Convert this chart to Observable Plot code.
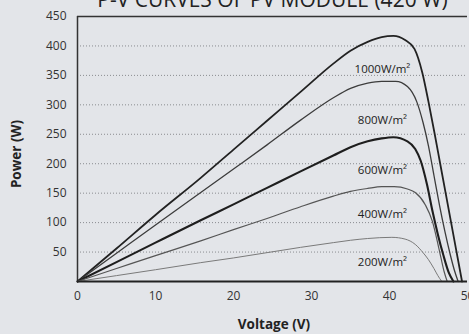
<!DOCTYPE html>
<html>
<head>
<meta charset="utf-8">
<script src="https://cdn.jsdelivr.net/npm/d3@7"></script>
<script src="https://cdn.jsdelivr.net/npm/@observablehq/plot@0.6"></script>
<style>
  html, body { margin: 0; padding: 0; background: #e3e5e9; overflow: hidden; }
  #wrap { position: relative; width: 469px; height: 334px; overflow: hidden; }
  #title { position: absolute; top: -15px; left: 0; width: 545px; text-align: center;
    font-family: "Open Sans", sans-serif; font-size: 21px; color: #222; white-space: nowrap; }
  #ylab { position: absolute; left: 16px; top: 154px; transform: translate(-50%, -50%) rotate(-90deg);
    font-family: "Open Sans", sans-serif; font-weight: bold; font-size: 13.5px; color: #222; white-space: nowrap; }
  #xlab { position: absolute; left: 274px; top: 315px; transform: translateX(-50%);
    font-family: "Open Sans", sans-serif; font-weight: bold; font-size: 13.5px; color: #222; white-space: nowrap; }
</style>
</head>
<body>
<div id="wrap">
  <div id="chart"></div>
  <div id="title">P-V CURVES OF PV MODULE (420 W)</div>
  <div id="ylab">Power (W)</div>
  <div id="xlab">Voltage (V)</div>
</div>
<script>
const series = ["1000W/m²", "800W/m²", "600W/m²", "400W/m²", "200W/m²"];
const voltage1000 = [0, 5, 10, 15.8, 20, 24.3, 28.6, 32.8, 35, 37.2, 39, 40.5, 42, 43.2, 44.2, 45, 45.8, 46.5, 47.2, 47.9, 48.6, 49.3];
const power1000   = [0, 56, 113, 176, 224, 273, 322, 370, 392, 407, 415, 417, 410, 395, 355, 305, 250, 200, 150, 100, 50, 0];
const voltage800  = [0, 5, 10, 15.8, 20, 24.3, 28.6, 32.8, 35, 37.2, 39, 40.8, 42.3, 43.5, 44.3, 45, 45.7, 46.4, 47.1, 47.8, 48.3, 48.8];
const power800    = [0, 48, 96, 151, 191, 232, 274, 312, 328, 337, 340, 340, 331, 305, 270, 230, 180, 130, 85, 45, 20, 0];
const voltage600  = [0, 5, 10, 15.8, 20, 24.3, 28.6, 32.8, 35, 37.2, 39, 40.5, 42.3, 43.3, 44, 44.8, 45.5, 46.2, 46.9, 47.6, 48.2];
const power600    = [0, 33, 66, 104, 131, 159, 187, 214, 228, 238, 243, 245, 238, 225, 205, 165, 120, 80, 45, 15, 0];
const voltage400  = [0, 5, 10, 15.8, 20, 24.3, 28.6, 32.8, 35, 37.2, 39, 40.6, 42.3, 43.3, 44.6, 45.5, 46.1, 46.6, 47, 47.4];
const power400    = [0, 22, 44, 69, 88, 107, 127, 145, 153, 158, 161, 161, 157, 151, 130, 102, 70, 40, 17, 0];
const voltage200  = [0, 5, 10, 15.8, 20, 24.3, 28.6, 32.8, 35, 37.2, 40.3, 42, 43.3, 44.3, 45, 45.7, 46.2, 46.7];
const power200    = [0, 10, 20, 32, 40, 49, 58, 66, 70, 73, 75, 72, 63, 49, 37, 22, 10, 0];
const labelX = [39.1, 39.1, 39.1, 39.1, 39.1];
const labelY = [361, 274, 189, 114, 32];
const xTicks = [0, 10, 20, 30, 40, 50];
const yTicks = [50, 100, 150, 200, 250, 300, 350, 400, 450];
const gridLines = [50, 100, 150, 200, 250, 300, 350, 400];

const volts = [voltage1000, voltage800, voltage600, voltage400, voltage200];
const powers = [power1000, power800, power600, power400, power200];
const styles = {
  "1000W/m²": {stroke: "#222", width: 1.8},
  "800W/m²": {stroke: "#3c3c3c", width: 1.3},
  "600W/m²": {stroke: "#1e1e1e", width: 2.1},
  "400W/m²": {stroke: "#555", width: 1.2},
  "200W/m²": {stroke: "#7a7a7a", width: 1.0}
};
const rows = [];
series.forEach((s, i) => volts[i].forEach((v, j) => rows.push({series: s, v, p: powers[i][j]})));
const labels = series.map((s, i) => ({series: s, x: labelX[i], y: labelY[i]}));

const marks = [
  Plot.ruleY(gridLines, {stroke: "#8a8c90", strokeWidth: 1, strokeDasharray: "1,2"}),
  Plot.ruleY([450], {stroke: "#333", strokeWidth: 1.5}),
  Plot.ruleX([0], {stroke: "#333", strokeWidth: 1.5}),
  ...series.map(s => Plot.line(rows.filter(r => r.series === s), {
    x: "v", y: "p", curve: "monotone-x", stroke: styles[s].stroke, strokeWidth: styles[s].width
  })),
  Plot.ruleY([0], {stroke: "#222", strokeWidth: 2}),
  Plot.text(labels, {x: "x", y: "y", text: "series", fill: "#222", fontSize: 11.5, fontFamily: "Open Sans"}),
  Plot.axisX(xTicks, {tickSize: 0, tickPadding: 10, fontSize: 12, fontFamily: "Open Sans", color: "#333", label: null}),
  Plot.axisY(yTicks, {tickSize: 0, tickPadding: 11, fontSize: 12, fontFamily: "Open Sans", color: "#333", label: null})
];

const chart = Plot.plot({
  width: 469,
  height: 334,
  marginLeft: 77,
  marginRight: 2,
  marginTop: 16,
  marginBottom: 53,
  style: {background: "transparent", fontFamily: "Open Sans", overflow: "visible"},
  x: {domain: [0, 50]},
  y: {domain: [0, 450]},
  marks
});
document.getElementById("chart").appendChild(chart);
</script>
</body>
</html>
